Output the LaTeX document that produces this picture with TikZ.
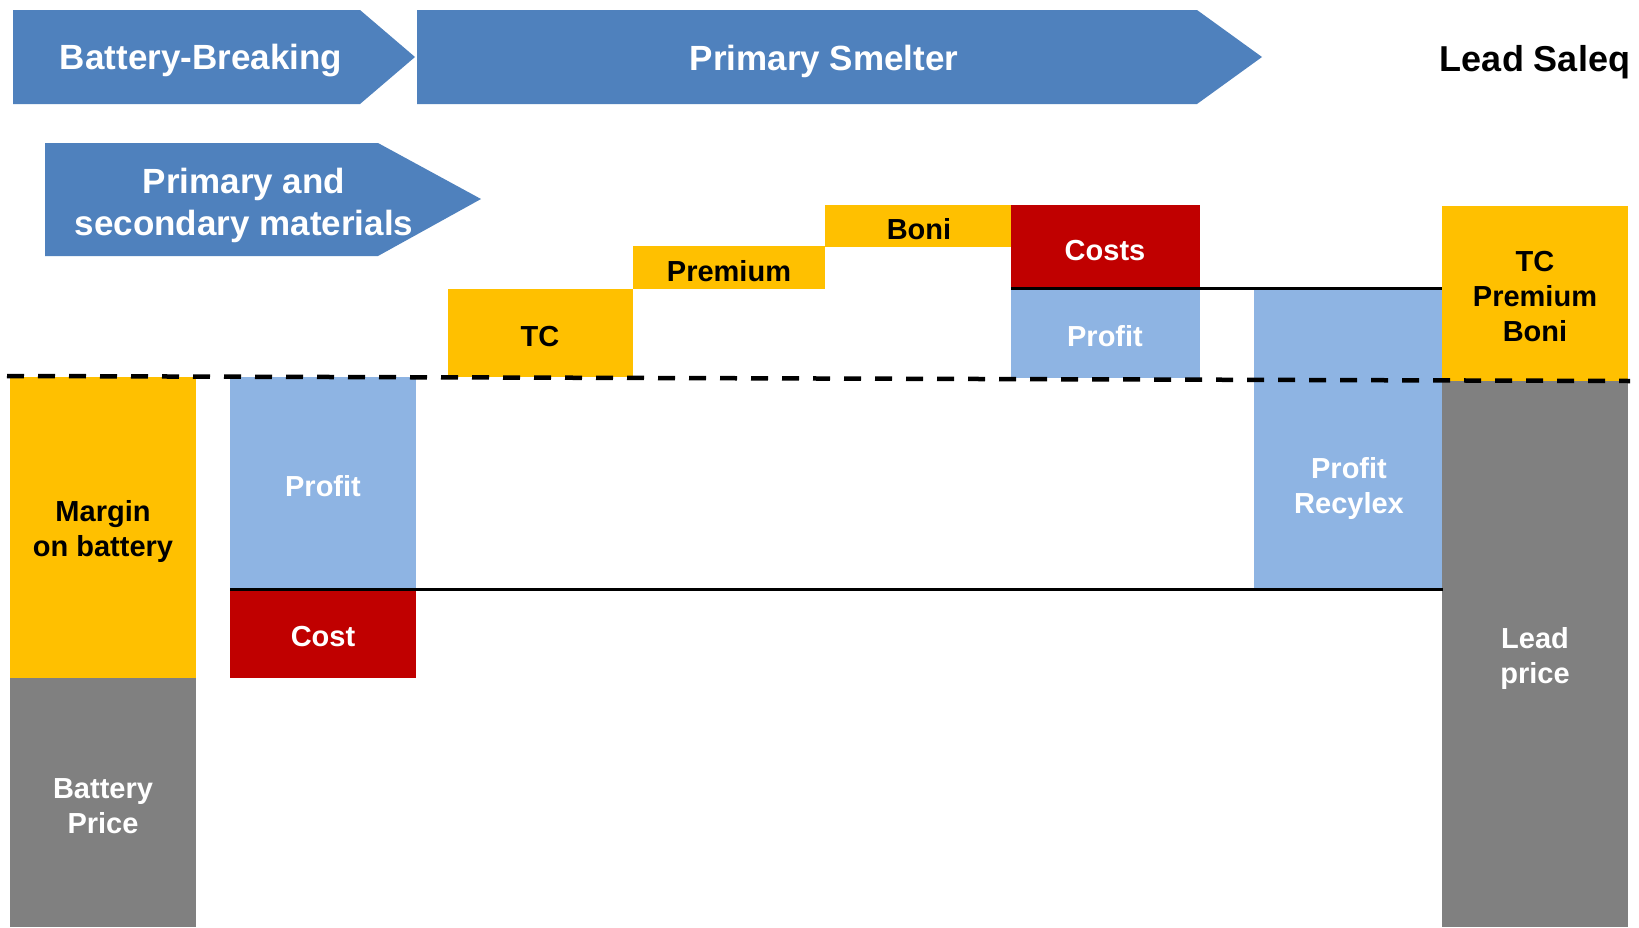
\documentclass[tikz,border=0pt]{standalone}
\usepackage{fontspec}
\setmainfont{Liberation Sans}
\definecolor{arrowblue}{HTML}{4F81BD}
\definecolor{gold}{HTML}{FFC000}
\definecolor{darkred}{HTML}{C00000}
\definecolor{lightblue}{HTML}{8EB4E3}
\definecolor{midgrey}{HTML}{808080}
\begin{document}
\begin{tikzpicture}[x=1pt,y=-1pt,
  headtxt/.style={font=\bfseries\fontsize{35}{42}\selectfont, align=center, inner sep=0pt, text=white, yshift=-4pt},
  boxtxt/.style={font=\bfseries\fontsize{29}{35}\selectfont, align=center, inner sep=0pt, yshift=-2.5pt},
  darktxt/.style={boxtxt, text=black},
  lighttxt/.style={boxtxt, text=white},
  divider/.style={line width=3pt, black},
  baseline/.style={line width=4.5pt, black, dash pattern=on 17pt off 14pt}]
\useasboundingbox[fill=white] (0,0) rectangle (1639,927);

% header arrows
\fill[arrowblue] (13,10) -- (360,10) -- (415,57) -- (360,104) -- (13,104) -- cycle;
\fill[arrowblue] (417,10) -- (1197,10) -- (1262,57) -- (1197,104) -- (417,104) -- cycle;
\fill[arrowblue] (45,143) -- (378,143) -- (481,199) -- (378,256) -- (45,256) -- cycle;
\node[headtxt] (bb) at (201,57) {Battery-Breaking};
\node[headtxt] (ps) at (824,57) {Primary Smelter};
\node[headtxt] (psm) at (244,201) {Primary and\\secondary materials};
\node[headtxt, text=black, font=\bfseries\fontsize{36}{42}\selectfont] (ls) at (1535,58) {Lead Saleq};

% left column
\fill[gold] (10,377) rectangle (196,678);
\fill[midgrey] (10,678) rectangle (196,927);
\node[darktxt] (margin) at (103,529) {Margin\\on battery};
\node[lighttxt] (bprice) at (103,804) {Battery\\Price};

% battery breaking profit/cost
\fill[lightblue] (230,377) rectangle (416,589);
\fill[darkred] (230,589) rectangle (416,678);
\node[lighttxt] (profit1) at (323,484) {Profit};
\node[lighttxt] (cost1) at (323,634) {Cost};

% smelter steps
\fill[gold] (448,289) rectangle (633,377);
\fill[gold] (633,246) rectangle (825,289);
\fill[gold] (825,205) rectangle (1011,247);
\fill[darkred] (1011,205) rectangle (1200,288);
\fill[lightblue] (1011,288) rectangle (1200,378);
\node[darktxt] (tc) at (540,334) {TC};
\node[darktxt] (premium) at (729,269) {Premium};
\node[darktxt] (boni) at (919,227) {Boni};
\node[lighttxt] (costs) at (1105,248) {Costs};
\node[lighttxt] (profit2) at (1105,334) {Profit};

% recylex
\fill[lightblue] (1254,289) rectangle (1443,589);
\node[lighttxt] (precy) at (1349,486) {Profit\\Recylex};

% right column
\fill[gold] (1442,206) rectangle (1628,381);
\fill[midgrey] (1442,381) rectangle (1628,927);
\node[darktxt] (tpb) at (1535,294) {TC\\Premium\\Boni};
\node[lighttxt] (lprice) at (1535,656) {Lead\\price};

% dividing lines
\coordinate (u1) at (1011,288);
\coordinate (u2) at (1442,288);
\coordinate (l1) at (230,589);
\coordinate (l2) at (1443,589);
\draw[divider] (u1) -- (u2);
\draw[divider] (l1) -- (l2);
\coordinate (d1) at (7,376);
\coordinate (d2) at (1630,381);
\draw[baseline] (d1) -- (d2);
\end{tikzpicture}
\end{document}
